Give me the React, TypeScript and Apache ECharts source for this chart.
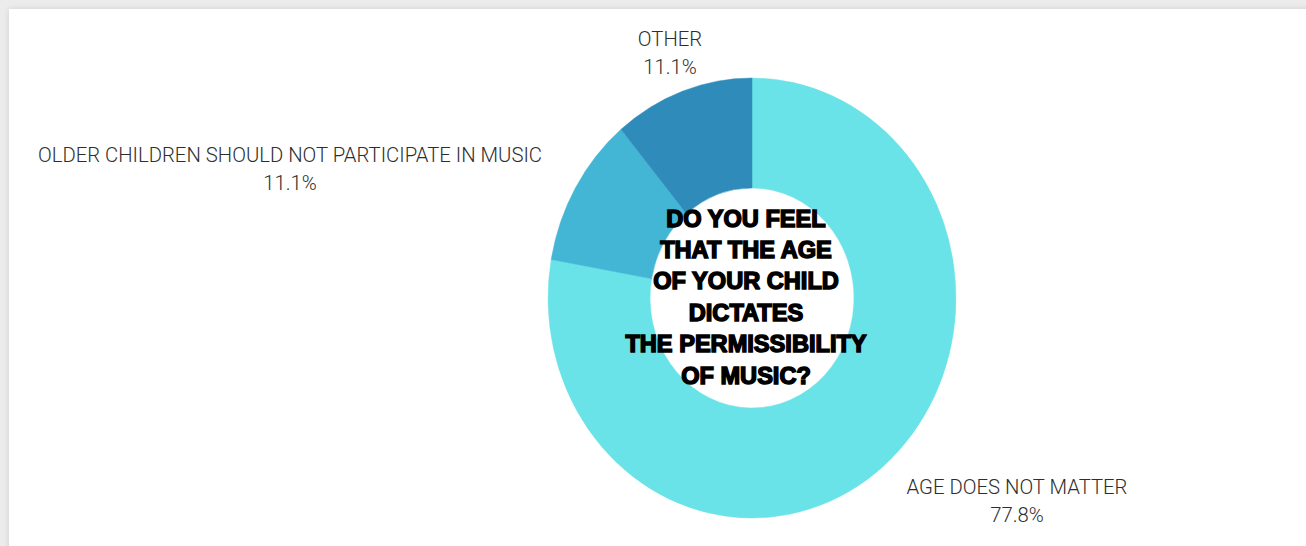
import React, { useEffect, useRef } from "react";
import * as echarts from "echarts";

const categories = [
  "AGE DOES NOT MATTER",
  "OLDER CHILDREN SHOULD NOT PARTICIPATE IN MUSIC",
  "OTHER",
];
const shares = [77.8, 11.1, 11.1];
const sliceColors = ["#69e3e8", "#43b5d5", "#2e8bba"];
const questionLines = [
  "DO YOU FEEL",
  "THAT THE AGE",
  "OF YOUR CHILD",
  "DICTATES",
  "THE PERMISSIBILITY",
  "OF MUSIC?",
];

// layout (styling, not data)
const CX = 752;
const CY = 298;
const RY = 220;
const RX = 204;
const labelPos = [
  [1017, 501],
  [290, 169],
  [670, 53],
];

export default function App() {
  const ref = useRef<HTMLDivElement>(null);
  useEffect(() => {
    if (!ref.current) return;
    const chart = echarts.init(ref.current, null, { renderer: "svg" });
    const total = shares.reduce((a, b) => a + b, 0);
    const option: any = {
      animation: false,
      series: [
        {
          type: "custom",
          coordinateSystem: "none",
          data: shares.map((v, i) => ({
            name: categories[i],
            value: [v],
            itemStyle: { color: sliceColors[i] },
          })),
          renderItem: (params: any, api: any) => {
            const i = params.dataIndex;
            const v = api.value(0);
            let cum = 0;
            for (let k = 0; k < i; k++) cum += shares[k];
            const start = -Math.PI / 2 + (cum / total) * Math.PI * 2;
            const end = start + (v / total) * Math.PI * 2;
            return {
              type: "group",
              x: CX,
              y: CY,
              scaleX: RX / RY,
              children: [
                {
                  type: "sector",
                  shape: {
                    cx: 0,
                    cy: 0,
                    r: RY,
                    r0: RY / 2,
                    startAngle: start,
                    endAngle: end,
                    clockwise: true,
                  },
                  style: { fill: api.visual("color"), stroke: api.visual("color"), lineWidth: 0.5 },
                },
              ],
            };
          },
        },
      ],
      graphic: [
        ...categories.map((c, i) => ({
          type: "text",
          x: labelPos[i][0],
          y: labelPos[i][1],
          style: {
            text: `${c}\n${shares[i].toFixed(1)}%`,
            align: "center",
            verticalAlign: "middle",
            fontFamily: "Roboto",
            fontWeight: 300,
            fontSize: 20.3,
            lineHeight: 28,
            fill: "#2e2e2e",
          },
        })),
        {
          type: "text",
          x: 746,
          y: 297,
          z: 10,
          style: {
            text: questionLines.join("\n"),
            align: "center",
            verticalAlign: "middle",
            fontFamily: "Liberation Sans",
            fontWeight: "bold",
            fontSize: 23.6,
            lineHeight: 31.4,
            fill: "#000000",
            stroke: "#000000",
            lineWidth: 1.5,
          },
        },
      ],
    };
    chart.setOption(option);
    return () => chart.dispose();
  }, []);
  return (
    <div style={{ position: "fixed", left: 0, top: 0, width: 1306, height: 546, background: "#ececec", overflow: "hidden" }}>
      <div
        style={{
          position: "absolute",
          left: 9,
          top: 9,
          width: 1310,
          height: 560,
          background: "#ffffff",
          boxShadow: "0 0 6px rgba(0,0,0,0.12)",
        }}
      />
      <div ref={ref} style={{ position: "absolute", left: 0, top: 0, width: 1306, height: 546 }} />
    </div>
  );
}
